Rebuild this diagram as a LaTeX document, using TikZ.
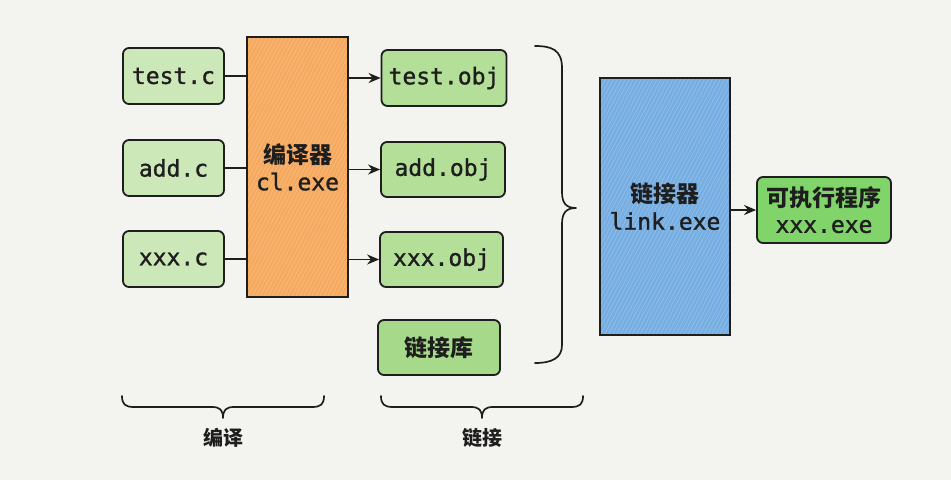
\documentclass[tikz,border=0pt]{standalone}
\usepackage{fontspec}
\setmonofont{DejaVu Sans Mono}[FakeBold=1.2]
\newfontfamily\cjk{Noto Sans CJK SC}
\usetikzlibrary{arrows.meta,patterns.meta}
\definecolor{bg}{HTML}{F3F3EF}
\definecolor{srcg}{HTML}{CDE8B8}
\definecolor{objg}{HTML}{B3DF98}
\definecolor{libg}{HTML}{A6D98A}
\definecolor{exeg}{HTML}{80D46A}
\definecolor{orng}{HTML}{F5A95E}
\definecolor{orngl}{HTML}{F8BC80}
\definecolor{blu}{HTML}{77AEE2}
\definecolor{blul}{HTML}{92BFEA}
\definecolor{ink}{HTML}{1E1E1E}
\tikzset{
  box/.style={draw=ink, line width=1.8pt, rounded corners=6pt, align=center,
    inner sep=0pt, font=\fontsize{23}{26}\selectfont\ttfamily, text=ink},
  tool/.style 2 args={draw=ink, line width=1.8pt, align=center, inner sep=0pt,
    font=\fontsize{23}{27}\selectfont\ttfamily, text=ink,
    preaction={fill=#1},
    preaction={pattern={Lines[angle=62,distance=3.5pt,line width=0.7pt]}, pattern color=#2}},
  wire/.style={draw=ink, line width=1.7pt},
  arr/.style={wire, -{Stealth[length=12pt,width=10pt]}},
  brc/.style={draw=ink, line width=1.7pt, line cap=round, line join=round},
  lbl/.style={font=\fontsize{20}{22}\selectfont\cjk\bfseries, text=ink}
}
\begin{document}
\begin{tikzpicture}[x=1pt,y=-1pt]
\fill[bg] (0,0) rectangle (951,480);
\useasboundingbox (0,0) rectangle (951,480);

% source files
\node[box, fill=srcg, minimum width=101pt, minimum height=56pt] (tc) at (173.5,76) {test.c};
\node[box, fill=srcg, minimum width=101pt, minimum height=56pt] (ac) at (173.5,168) {add.c};
\node[box, fill=srcg, minimum width=101pt, minimum height=56pt] (xc) at (173.5,259) {xxx.c};

% compiler
\node[tool={orng}{orngl}, minimum width=101pt, minimum height=260pt] (cl) at (297.5,167)
  {{\cjk\bfseries 编译器}\\cl.exe};

% object files
\node[box, fill=objg, minimum width=125pt, minimum height=56pt] (to) at (444,78) {test.obj};
\node[box, fill=objg, minimum width=124pt, minimum height=55pt] (ao) at (443,169.5) {add.obj};
\node[box, fill=objg, minimum width=123pt, minimum height=55pt] (xo) at (441.5,259.5) {xxx.obj};
\node[box, fill=libg, minimum width=122pt, minimum height=55pt] (lib) at (439,347.5) {\cjk\bfseries 链接库};

% linker
\node[tool={blu}{blul}, minimum width=130pt, minimum height=257pt] (lk) at (665,206.5)
  {{\cjk\bfseries 链接器}\\link.exe};

% executable
\node[box, fill=exeg, minimum width=134pt, minimum height=66pt] (exe) at (824,210)
  {{\cjk\bfseries 可执行程序}\\xxx.exe};

% connectors
\draw[wire] (tc.east) -- (tc.east -| cl.west);
\draw[wire] (ac.east) -- (ac.east -| cl.west);
\draw[wire] (xc.east) -- (xc.east -| cl.west);
\draw[arr] (to.west -| cl.east) -- (to.west);
\draw[arr] (ao.west -| cl.east) -- (ao.west);
\draw[arr] (xo.west -| cl.east) -- (xo.west);
\draw[arr] (exe.west -| lk.east) -- (exe.west);

% right brace
\coordinate (rbT) at (535,46);
\coordinate (rbM) at (576,208);
\coordinate (rbB) at (535,363);
\draw[brc] (rbT) .. controls (552,46) and (562,50) .. (562,68)
  -- (562,192) .. controls (562,203) and (566,208) .. (rbM)
  .. controls (566,208) and (562,213) .. (562,224)
  -- (562,345) .. controls (562,358) and (552,363) .. (rbB);

% bottom braces
\coordinate (b1L) at (122,396);
\coordinate (b1M) at (223,418);
\coordinate (b1R) at (324,396);
\draw[brc] (b1L) .. controls (122,404) and (125,407) .. (134,407)
  -- (212,407) .. controls (220,407) and (223,410) .. (b1M)
  .. controls (223,410) and (226,407) .. (234,407)
  -- (312,407) .. controls (321,407) and (324,404) .. (b1R);
\node[lbl] (l1) at (223,438) {编译};

\coordinate (b2L) at (381,396);
\coordinate (b2M) at (482,418);
\coordinate (b2R) at (583,396);
\draw[brc] (b2L) .. controls (381,404) and (384,407) .. (393,407)
  -- (471,407) .. controls (479,407) and (482,410) .. (b2M)
  .. controls (482,410) and (485,407) .. (493,407)
  -- (571,407) .. controls (580,407) and (583,404) .. (b2R);
\node[lbl] (l2) at (482,438) {链接};
\end{tikzpicture}
\end{document}
